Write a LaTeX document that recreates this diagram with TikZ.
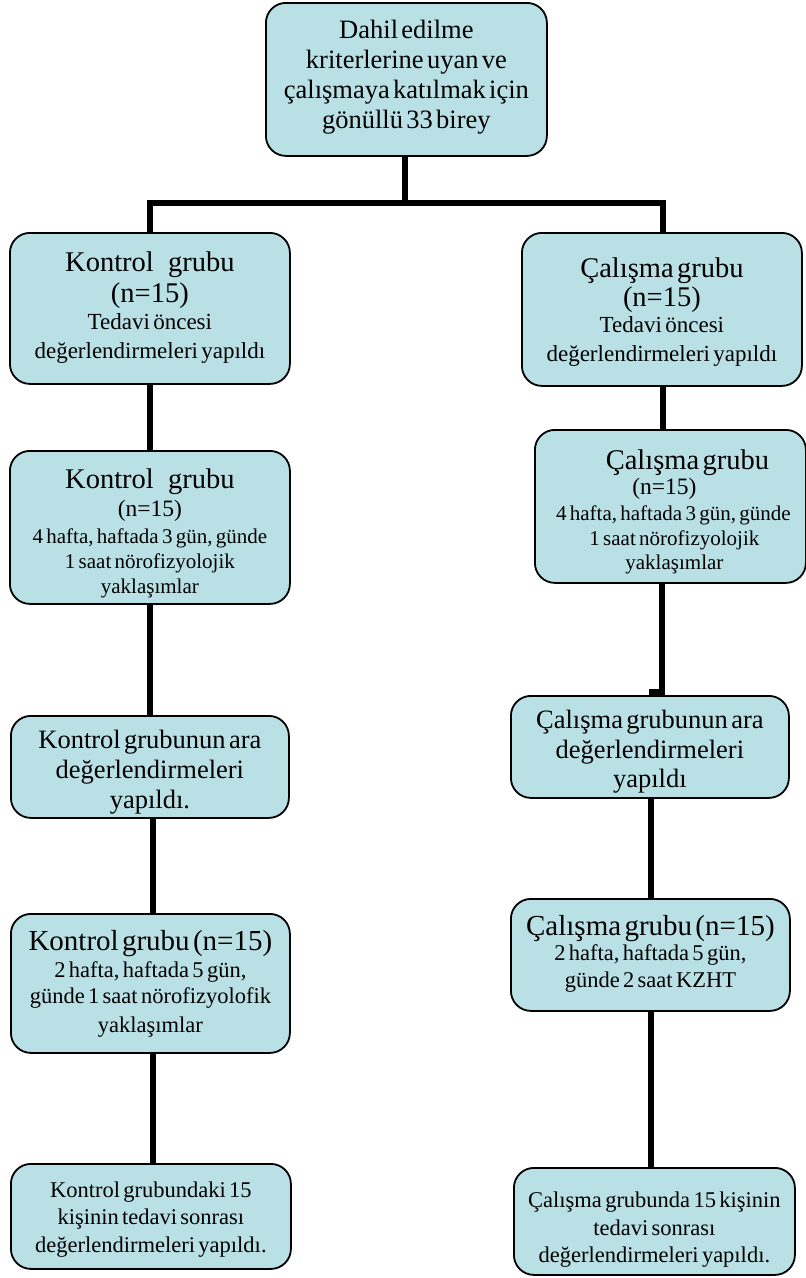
\documentclass[tikz,border=0pt]{standalone}
\usepackage{fontspec}
\setmainfont[WordSpace=1.2]{Liberation Serif}
\definecolor{boxfill}{HTML}{B9E0E4}
\newcommand{\fsz}[2]{\fontsize{#1pt}{#2pt}\selectfont}
\newcommand{\bline}[3]{{\fsz{#1}{#2}\noindent\makebox[\linewidth]{#3}\par}}
\begin{document}
\begin{tikzpicture}[x=1pt,y=-1pt,
  box/.style 2 args={draw=black, fill=boxfill, line width=1.8pt, rounded corners=20pt,
    anchor=north west, inner sep=0pt, minimum width=#1, text width=#1, minimum height=#2},
  conn/.style={line width=5.5pt, line join=miter}]
\fill[white] (0,0) rectangle (806,1278);
\useasboundingbox (0,0) rectangle (806,1278);

\node[box={281pt}{153pt}, text height=36pt, text depth=117pt] (top) at (265,2) {%
  \bline{26.5}{30}{Dahil edilme}\bline{26.5}{30}{kriterlerine uyan ve}%
  \bline{26.5}{30}{çalışmaya katılmak için}\bline{26.5}{30}{gönüllü 33 birey}};

\node[box={280pt}{151pt}, text height=39pt, text depth=112pt] (L1) at (9,232) {%
  \bline{28.5}{30}{Kontrol\hspace*{0.5em}grubu}\bline{28.5}{31}{(n=15)}%
  \bline{23}{27}{Tedavi öncesi}\bline{23}{29}{değerlendirmeleri yapıldı}};

\node[box={280pt}{153pt}, text height=45pt, text depth=108pt] (R1) at (521,232) {%
  \bline{28.5}{30}{Çalışma grubu}\bline{28.5}{29}{(n=15)}%
  \bline{23}{26}{Tedavi öncesi}\bline{23}{29}{değerlendirmeleri yapıldı}};

\node[box={280pt}{153pt}, text height=38pt, text depth=115pt] (L2) at (9,450) {%
  \bline{28.5}{30}{Kontrol\hspace*{0.5em}grubu}\bline{23.5}{28}{(n=15)}%
  \bline{21}{27}{4 hafta, haftada 3 gün, günde}\bline{21}{25}{1 saat nörofizyolojik}%
  \bline{21}{25}{yaklaşımlar}};

\node[box={271pt}{153pt}, text height=40pt, text depth=113pt] (R2) at (534,429) {%
  \bline{28.5}{30}{\hspace*{34pt}Çalışma grubu}\bline{23.5}{25}{(n=15)\hspace*{12pt}}%
  \bline{21}{26}{\hspace*{6pt}4 hafta, haftada 3 gün, günde}\bline{21}{25}{\hspace*{8pt}1 saat nörofizyolojik}%
  \bline{21}{24}{\hspace*{8pt}yaklaşımlar}};

\node[box={278pt}{102pt}, text height=33pt, text depth=69pt] (L3) at (10,715) {%
  \bline{26.5}{30}{Kontrol grubunun ara}\bline{26.5}{30}{değerlendirmeleri}%
  \bline{26.5}{30}{yapıldı.}};

\node[box={278pt}{102pt}, text height=33pt, text depth=69pt] (R3) at (510,695) {%
  \bline{26.5}{30}{Çalışma grubunun ara}\bline{26.5}{30}{değerlendirmeleri}%
  \bline{26.5}{29}{yapıldı}};

\node[box={279pt}{139pt}, text height=37pt, text depth=102pt] (L4) at (10,913) {%
  \bline{29}{30}{Kontrol grubu (n=15)}\bline{22.5}{27}{2 hafta, haftada 5 gün,}%
  \bline{22.5}{26}{günde 1 saat nörofizyolofik}\bline{22.5}{29}{yaklaşımlar}};

\node[box={279pt}{112pt}, text height=37pt, text depth=75pt] (R4) at (510,898) {%
  \bline{29}{30}{Çalışma grubu (n=15)}\bline{22.5}{25}{2 hafta, haftada 5 gün,}%
  \bline{22.5}{27}{günde 2 saat KZHT}};

\node[box={280pt}{105pt}, text height=34pt, text depth=71pt] (L5) at (10,1163) {%
  \bline{22.5}{27}{Kontrol grubundaki 15}\bline{22.5}{27}{kişinin tedavi sonrası}%
  \bline{22.5}{28}{değerlendirmeleri yapıldı.}};

\node[box={281pt}{107pt}, text height=40pt, text depth=67pt] (R5) at (513,1167) {%
  \bline{22.5}{27}{Çalışma grubunda 15 kişinin}\bline{22.5}{27.5}{tedavi sonrası}%
  \bline{22.5}{27.5}{değerlendirmeleri yapıldı.}};

\coordinate (j) at (405,203);
\coordinate (cx) at (405,0);
\coordinate (xa) at (150,0);
\coordinate (xb) at (153,0);
\coordinate (xr) at (663,0);
\coordinate (xr2) at (662,0);
\coordinate (xr3) at (651,0);
\coordinate (nk) at (649,692);

\draw[conn] (cx |- top.south) -- (j);
\draw[conn] (xa |- L1.north) |- (j) -| (xr |- R1.north);
\draw[conn] (xa |- L1.south) -- (xa |- L2.north);
\draw[conn] (xa |- L2.south) -- (xa |- L3.north);
\draw[conn] (xb |- L3.south) -- (xb |- L4.north);
\draw[conn] (xb |- L4.south) -- (xb |- L5.north);
\draw[conn] (xr |- R1.south) -- (xr |- R2.north);
\draw[conn] (xr2 |- R2.south) |- (nk);
\draw[conn] (xr3 |- R3.south) -- (xr3 |- R4.north);
\draw[conn] (xr3 |- R4.south) -- (xr3 |- R5.north);
\end{tikzpicture}
\end{document}
